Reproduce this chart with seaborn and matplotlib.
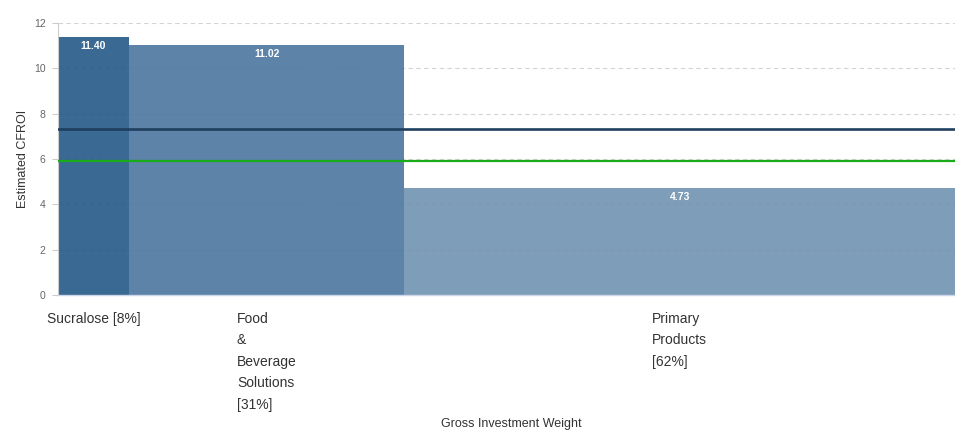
import numpy as np
import pandas as pd
import matplotlib
matplotlib.use("Agg")
import matplotlib.pyplot as plt
import seaborn as sns

# Segment data
segments = ["Sucralose", "Food & Beverage Solutions", "Primary Products"]
tick_labels = ["Sucralose [8%]", "Food\n&\nBeverage\nSolutions\n[31%]", "Primary\nProducts\n[62%]"]
weights = [8, 31, 62]          # gross investment weight, %
cfroi = [11.40, 11.02, 4.73]   # estimated CFROI
bar_colors = ["#245987", "#4b76a0", "#7092b1"]

# Reference levels
line_navy = 7.32
line_green = 5.91

sns.set_theme(style="white")
plt.rcParams["font.family"] = ["Liberation Sans", "DejaVu Sans"]

edges = [0.0] + [float(v) for v in np.cumsum(weights)]
centers = [(a + b) / 2 for a, b in zip(edges[:-1], edges[1:])]
df = pd.DataFrame({"segment": segments, "x": centers, "cfroi": cfroi})

fig = plt.figure(figsize=(9.55, 4.32), dpi=100)
ax = fig.add_axes([58 / 955, 1 - 295 / 432, 1 - 58 / 955, (295 - 23) / 432])

sns.histplot(
    data=df, x="x", weights="cfroi", hue="segment", hue_order=segments,
    bins=edges, palette=bar_colors, alpha=0.9, multiple="layer",
    linewidth=0, legend=False, ax=ax, zorder=2,
)

ax.axhline(line_navy, color="#1f3f5f", lw=1.9, zorder=4)
ax.axhline(line_green, color="#1aab1a", lw=1.6, zorder=4)

for xc, v in zip(centers, cfroi):
    ax.annotate(f"{v:.2f}", (xc, v), xytext=(0, -3), textcoords="offset points",
                ha="center", va="top", color="white", fontsize=7.5,
                fontweight="bold", zorder=5)

ax.set_xlim(edges[0], edges[-1])
ax.set_ylim(0, 12)
ax.set_yticks(np.arange(0, 13, 2))
ax.yaxis.grid(True, color="#d4d4d4", linestyle=(0, (4, 3)), lw=0.8, zorder=0)
ax.set_axisbelow(True)

ax.set_xticks(centers)
ax.set_xticklabels(tick_labels, fontsize=10, color="#333333", linespacing=1.68)
for lab in ax.get_xticklabels():
    lab.set_multialignment("left")
ax.tick_params(axis="x", length=0, pad=12)
ax.tick_params(axis="y", length=4, width=0.8, color="#cccccc", labelsize=7.5,
               labelcolor="#666666", pad=5, left=True)

for side in ["top", "right"]:
    ax.spines[side].set_visible(False)
ax.spines["left"].set_color("#cccccc")
ax.spines["left"].set_linewidth(0.8)
ax.spines["bottom"].set_color("#ccd6eb")
ax.spines["bottom"].set_linewidth(1.0)

ax.set_ylabel("Estimated CFROI", fontsize=9, color="#333333")
ax.yaxis.set_label_coords(-0.032, 0.5)
ax.set_xlabel("Gross Investment Weight", fontsize=9, color="#333333", va="center")
ax.xaxis.set_label_coords(0.505, (295 - 424) / 272)

fig.savefig("out.png", dpi=100)
